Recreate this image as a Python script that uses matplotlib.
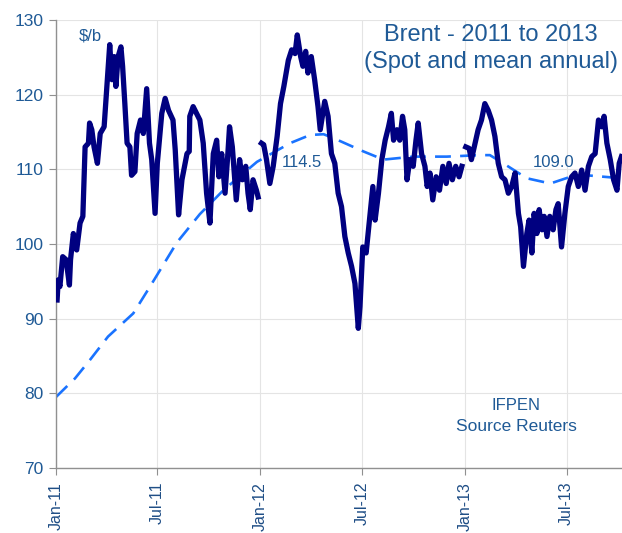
import matplotlib
matplotlib.use("Agg")
import matplotlib.pyplot as plt
import numpy as np
import pandas as pd

plt.rcParams['font.family'] = ['Liberation Sans', 'DejaVu Sans']

# Brent spot ($/b); None = break between years
spot_dates = [
    '2011-01-03', '2011-01-05', '2011-01-08', '2011-01-13', '2011-01-19', '2011-01-25', '2011-01-27',
    '2011-02-01', '2011-02-07', '2011-02-13', '2011-02-18', '2011-02-22', '2011-02-28', '2011-03-02',
    '2011-03-06', '2011-03-10', '2011-03-16', '2011-03-21', '2011-03-28', '2011-04-02', '2011-04-07',
    '2011-04-11', '2011-04-15', '2011-04-18', '2011-04-22', '2011-04-27', '2011-04-30', '2011-05-04',
    '2011-05-08', '2011-05-13', '2011-05-16', '2011-05-22', '2011-05-26', '2011-06-01', '2011-06-06',
    '2011-06-12', '2011-06-17', '2011-06-21', '2011-06-27', '2011-07-01', '2011-07-09', '2011-07-15',
    '2011-07-21', '2011-07-29', '2011-08-02', '2011-08-08', '2011-08-14', '2011-08-23', '2011-08-27',
    '2011-08-28', '2011-09-03', '2011-09-09', '2011-09-15', '2011-09-21', '2011-09-27', '2011-10-03',
    '2011-10-09', '2011-10-15', '2011-10-19', '2011-10-24', '2011-10-30', '2011-11-04', '2011-11-07',
    '2011-11-12', '2011-11-19', '2011-11-25', '2011-11-30', '2011-12-06', '2011-12-10', '2011-12-14',
    '2011-12-19', '2011-12-25', '2011-12-28',
    '2012-01-01',
    '2012-01-03', '2012-01-07', '2012-01-12', '2012-01-18', '2012-01-24', '2012-01-31', '2012-02-06',
    '2012-02-12', '2012-02-20', '2012-02-26', '2012-03-03', '2012-03-07', '2012-03-13', '2012-03-17',
    '2012-03-22', '2012-03-26', '2012-04-01', '2012-04-07', '2012-04-13', '2012-04-17', '2012-04-25',
    '2012-05-01', '2012-05-07', '2012-05-13', '2012-05-19', '2012-05-25', '2012-05-31', '2012-06-06',
    '2012-06-12', '2012-06-18', '2012-06-24', '2012-06-27', '2012-07-02', '2012-07-08', '2012-07-14',
    '2012-07-20', '2012-07-24', '2012-07-30', '2012-08-05', '2012-08-11', '2012-08-17', '2012-08-22',
    '2012-08-26', '2012-09-01', '2012-09-06', '2012-09-11', '2012-09-15', '2012-09-19', '2012-09-24',
    '2012-09-30', '2012-10-05', '2012-10-09', '2012-10-15', '2012-10-21', '2012-10-25', '2012-10-30',
    '2012-11-04', '2012-11-10', '2012-11-16', '2012-11-22', '2012-11-28', '2012-12-03', '2012-12-09',
    '2012-12-15', '2012-12-21', '2012-12-26',
    '2013-01-01',
    '2013-01-02', '2013-01-08', '2013-01-12', '2013-01-18', '2013-01-24', '2013-01-30', '2013-02-05',
    '2013-02-11', '2013-02-17', '2013-02-23', '2013-03-01', '2013-03-07', '2013-03-13', '2013-03-19',
    '2013-03-25', '2013-03-31', '2013-04-06', '2013-04-10', '2013-04-15', '2013-04-21', '2013-04-25',
    '2013-04-30', '2013-05-04', '2013-05-09', '2013-05-13', '2013-05-18', '2013-05-22', '2013-05-27',
    '2013-06-01', '2013-06-07', '2013-06-12', '2013-06-16', '2013-06-22', '2013-06-28', '2013-07-04',
    '2013-07-10', '2013-07-16', '2013-07-22', '2013-07-28', '2013-08-03', '2013-08-09', '2013-08-15',
    '2013-08-21', '2013-08-27', '2013-09-02', '2013-09-06', '2013-09-11', '2013-09-17', '2013-09-23',
    '2013-09-29', '2013-10-03', '2013-10-07',
]
spot_values = [
    92.5, 95.2, 94.3, 98.3, 97.9, 94.5, 97.9,
    101.4, 99.2, 102.8, 103.7, 113.0, 113.5, 116.2,
    115.3, 113.0, 110.8, 114.8, 115.7, 121.1, 126.7,
    122.0, 125.1, 121.1, 125.1, 126.4, 123.8, 118.8,
    113.5, 113.0, 109.2, 109.7, 114.8, 116.6, 114.8,
    120.8, 113.5, 111.3, 104.1, 110.8, 117.5, 119.5,
    117.9, 116.6, 112.6, 103.9, 108.6, 112.1, 112.4,
    117.1, 118.4, 117.5, 116.6, 113.5, 106.8, 102.8,
    112.1, 113.9, 109.0, 112.1, 106.8, 112.1, 115.7,
    113.0, 105.9, 111.3, 108.6, 110.4, 106.8, 104.6,
    108.6, 107.2, 106.3,
    None,
    113.5, 113.3, 111.3, 108.1, 110.4, 114.4, 118.8,
    121.1, 124.6, 126.0, 125.5, 128.0, 125.1, 123.8,
    125.8, 122.9, 125.1, 122.0, 118.4, 115.3, 119.1,
    117.1, 112.1, 110.8, 106.8, 105.0, 101.0, 98.8,
    97.0, 94.7, 88.7, 91.6, 99.6, 98.8, 103.2,
    107.7, 103.2, 106.8, 111.3, 113.9, 115.7, 117.5,
    113.9, 115.3, 113.9, 117.1, 115.3, 108.6, 111.3,
    110.4, 113.9, 116.2, 112.1, 110.4, 107.7, 109.5,
    105.9, 109.0, 107.2, 110.4, 108.1, 110.8, 108.6,
    110.4, 109.0, 110.4,
    None,
    113.0, 112.8, 111.3, 113.3, 115.3, 116.6, 118.8,
    117.9, 116.6, 114.4, 110.8, 109.0, 108.6, 106.8,
    107.7, 109.5, 104.1, 102.3, 97.0, 101.4, 103.2,
    98.8, 104.1, 101.4, 104.6, 101.9, 103.7, 101.0,
    103.7, 101.9, 104.6, 105.4, 99.6, 104.1, 107.7,
    109.0, 109.5, 107.7, 109.9, 107.2, 110.4, 111.7,
    112.1, 116.6, 115.7, 117.1, 113.5, 111.3, 108.6,
    107.2, 110.8, 111.7,
]

# mean annual (rolling) price
mean_dates = [
    '2011-01-01', '2011-02-04', '2011-03-03', '2011-04-04', '2011-05-19', '2011-06-18', '2011-08-05',
    '2011-09-15', '2011-10-27', '2011-12-26', '2012-02-23', '2012-03-30', '2012-04-23', '2012-05-10',
    '2012-07-03', '2012-08-08', '2012-09-30', '2012-11-29', '2013-01-27', '2013-02-14', '2013-03-10',
    '2013-04-21', '2013-06-02', '2013-07-08', '2013-08-06', '2013-10-07',
]
mean_values = [
    79.5, 82.0, 84.5, 87.6, 90.7, 94.3, 100.2,
    104.0, 107.2, 111.0, 113.5, 114.6, 114.7, 114.2,
    112.4, 111.3, 111.7, 111.7, 111.9, 111.9, 110.8,
    108.8, 108.1, 109.0, 109.2, 108.8,
]

tick_dates = ['2011-01-01', '2011-07-01', '2012-01-01', '2012-07-01', '2013-01-01', '2013-07-01']
tick_labels = ['Jan-11', 'Jul-11', 'Jan-12', 'Jul-12', 'Jan-13', 'Jul-13']

txt_col = '#1f5a96'

fig = plt.figure(figsize=(6.22, 5.33), dpi=100)
ax = fig.add_axes([0.09, 0.122, 0.91, 0.8405])

sd = pd.to_datetime(spot_dates)
sv = np.array([np.nan if v is None else v for v in spot_values])
md = pd.to_datetime(mean_dates)

ax.plot(md, mean_values, color='#1a73ff', lw=1.9, dashes=(6, 3.5), zorder=2)
ax.plot(sd, sv, color='#000080', lw=3.8, solid_joinstyle='round', zorder=3)

ax.set_ylim(70, 130)
ax.set_yticks(range(70, 131, 10))
ax.set_xlim(pd.Timestamp('2011-01-01'), pd.Timestamp('2013-10-08'))
ax.set_xticks(pd.to_datetime(tick_dates))
ax.set_xticklabels(tick_labels, rotation=90)

ax.grid(True, color='#e4e4e4', lw=0.8)
ax.set_axisbelow(True)
for s in ['top', 'right']:
    ax.spines[s].set_visible(False)
for s in ['left', 'bottom']:
    ax.spines[s].set_color('#909090')
    ax.spines[s].set_linewidth(1.0)
ax.tick_params(axis='y', colors='#909090', labelcolor=txt_col, labelsize=12.5, length=5, pad=4)
ax.tick_params(axis='x', colors='#909090', labelcolor='#1f4e86', labelsize=11.5, length=5, pad=5)

fig.text(0.145, 0.932, '$/b', color=txt_col, fontsize=12, ha='center', va='center')
fig.text(0.789, 0.934, 'Brent - 2011 to 2013', color=txt_col, fontsize=17, ha='center', va='center')
fig.text(0.789, 0.884, '(Spot and mean annual)', color=txt_col, fontsize=17, ha='center', va='center')
fig.text(0.453, 0.696, '114.5', color=txt_col, fontsize=12, ha='left', va='center')
fig.text(0.857, 0.696, '109.0', color=txt_col, fontsize=12, ha='left', va='center')
fig.text(0.830, 0.240, 'IFPEN', color=txt_col, fontsize=12, ha='center', va='center')
fig.text(0.831, 0.199, 'Source Reuters', color=txt_col, fontsize=12.5, ha='center', va='center')

fig.savefig('out.png', dpi=100)
